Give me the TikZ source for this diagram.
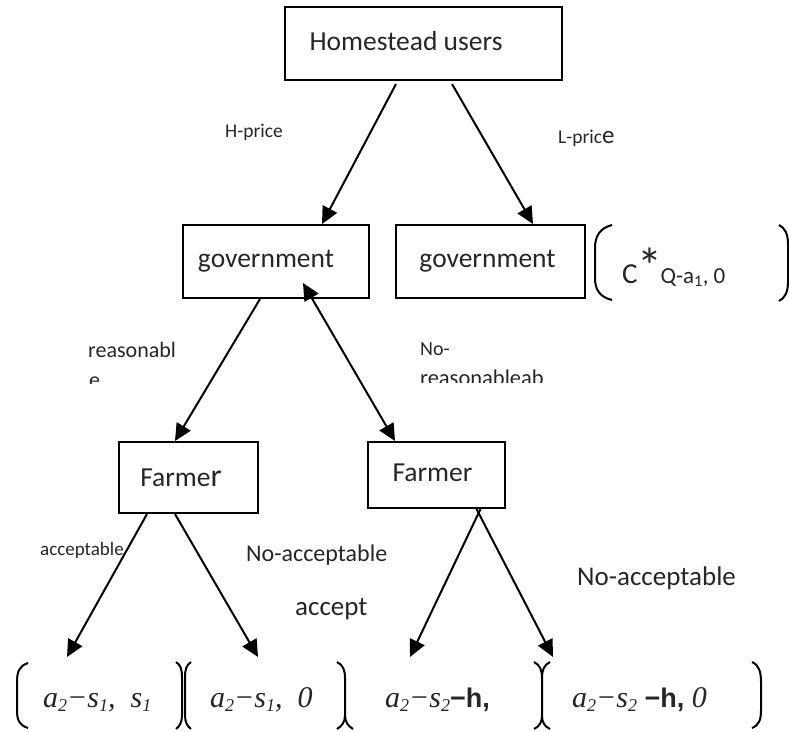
\documentclass[tikz,border=0pt]{standalone}
\usepackage{fontspec}
\setmainfont{Carlito}
\newfontfamily\serifit{Liberation Serif}
\newfontfamily\arialb{Liberation Sans}
\usetikzlibrary{arrows.meta,calc}
\newcommand\sbx[1]{\raisebox{-0.3ex}{\fontsize{18}{18}\selectfont #1}}
\newcommand\fs[1]{\fontsize{#1}{#1}\selectfont}
\begin{document}
\begin{tikzpicture}[x=1pt,y=-1pt,
 box/.style={draw, line width=2pt, inner sep=0pt, text=black!85, font=\fs{27.5}},
 arr/.style={line width=2pt, -{Triangle[length=17pt,width=16pt]}},
 darr/.style={line width=2pt, {Triangle[length=17pt,width=16pt]}-{Triangle[length=17pt,width=16pt]}},
 lbl/.style={inner sep=0pt, anchor=base west, text=black!85},
 mth/.style={inner sep=0pt, anchor=base west, text=black!85, font=\fs{30}\serifit\itshape},
 brk/.style={line width=2pt},
]
\useasboundingbox (0,0) rectangle (789,731);

% boxes
\node[box, minimum width=277pt, minimum height=73pt] (top) at (423.5,43.5) {\raisebox{6pt}{Homestead users}\hspace*{35pt}};
\node[box, minimum width=186pt, minimum height=73pt] (lg) at (276,261.5) {\raisebox{3pt}{government}\hspace*{20pt}};
\node[box, minimum width=189pt, minimum height=73pt] (rg) at (490.5,261.5) {\raisebox{3pt}{government}\hspace*{6pt}};
\node[box, minimum width=139pt, minimum height=71pt] (lf) at (188.5,477.5) {Farme{\fs{32}r}\hspace*{15pt}};
\node[box, minimum width=137pt, minimum height=66pt] (rf) at (436.5,475) {\raisebox{5pt}{Farmer}\hspace*{8pt}};

% labels
\node[lbl, font=\fs{19.5}] (hp) at (225,137) {H-price};
\node[lbl, font=\fs{19.5}] (lp) at (558,143) {L-pric{\fs{25}e}};
\node[lbl, font=\fs{19}] (acc) at (40,555) {acceptable};
\node[lbl, font=\fs{24}] (nacc1) at (246,561) {No-acceptable};
\node[lbl, font=\fs{27}] (accpt) at (295,615) {accept};
\node[lbl, font=\fs{27}] (nacc2) at (577,585) {No-acceptable};
\begin{scope}
\clip (60,320) rectangle (260,383);
\node[lbl, font=\fs{22}] (rs) at (88,357) {reasonabl};
\node[lbl, font=\fs{22}] (rse) at (89,387) {e};
\end{scope}
\begin{scope}
\clip (400,320) rectangle (600,382);
\node[lbl, font=\fs{20}] (no) at (420,355) {No-};
\node[lbl, font=\fs{22.5}] (nrs) at (420,385) {reasonableab};
\end{scope}

% payoff top right
\node[lbl, font=\fs{29}] (cq) at (622,283) {C{\fs{50}*\kern-2pt}{\fs{23}Q-a\textsubscript{1}, 0}};

% bottom payoffs
\node[mth] (p1) at (43,707) {a\sbx{2}−s\sbx{1},\ \ s\sbx{1}};
\node[mth] (p2) at (210,707) {a\sbx{2}−s\sbx{1},\ \ 0};
\node[mth] (p3) at (385,707) {a\sbx{2}−s\sbx{2}{\arialb\bfseries\upshape\fs{27}−h,}};
\node[mth] (p4) at (572,707) {a\sbx{2}−s\sbx{2}\ {\arialb\bfseries\upshape\fs{27}−h,}\ 0};

% end coordinates
\coordinate (b1) at (67,657);
\coordinate (b2) at (258,657);
\coordinate (b3) at (410,657);
\coordinate (b4) at (553,657);

% connectors
\draw[arr] ([xshift=-27.5pt,yshift=-3pt]top.south) -- ([xshift=46pt]lg.north);
\draw[arr] ([xshift=28.5pt,yshift=-3pt]top.south) -- ([xshift=42.5pt]rg.north);
\draw[arr] ([xshift=-16pt]lg.south) -- ([xshift=-13.5pt]lf.north);
\draw[darr] ([xshift=27pt,yshift=16pt]lg.south) -- ([xshift=28pt]rf.north west);
\draw[arr] ([xshift=-41.5pt]lf.south) -- (b1);
\draw[arr] ([xshift=-13.5pt]lf.south) -- (b2);
\draw[arr] ([xshift=44pt]rf.south) -- (b3);
\draw[arr] ([xshift=40pt]rf.south) -- (b4);

% brackets top right
\draw[brk] (612,225) .. controls (600,228) and (595,236) .. (595,248) -- (595,278) .. controls (595,290) and (600,297) .. (612,300);
\draw[brk] (779,225) .. controls (785,228) and (788,234) .. (788,244) -- (788,282) .. controls (788,292) and (785,298) .. (779,301);

% bottom brackets
\draw[brk] (28,663) .. controls (19,666) and (17,672) .. (17,682) -- (17,710) .. controls (17,720) and (19,725) .. (28,728);
\draw[brk] (176,662) .. controls (181,665) and (182,670) .. (182,678) -- (182,715) .. controls (182,722) and (180,726) .. (176,729);
\draw[brk] (191,662) .. controls (186,665) and (185,670) .. (185,678) -- (185,715) .. controls (185,722) and (187,726) .. (191,729);
\draw[brk] (337,662) .. controls (343,665) and (345,670) .. (345,678) -- (345,715) .. controls (345,722) and (342,726) .. (337,729);
\draw[brk] (345,715) .. controls (345,722) and (348,726) .. (353,729);
\draw[brk] (534,662) .. controls (540,665) and (542,670) .. (542,678) -- (542,715) .. controls (542,722) and (540,726) .. (534,729);
\draw[brk] (550,662) .. controls (544,665) and (542,670) .. (542,678);
\draw[brk] (542,715) .. controls (542,722) and (544,726) .. (550,729);
\draw[brk] (752,662) .. controls (759,665) and (761,672) .. (761,682) -- (761,710) .. controls (761,720) and (759,725) .. (752,728);
\end{tikzpicture}
\end{document}
